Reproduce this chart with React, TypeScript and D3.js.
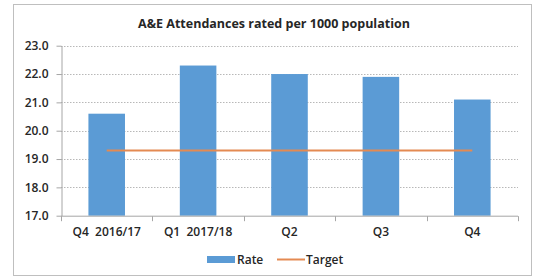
import React, { useEffect, useRef } from "react";
import * as d3 from "d3";

// ─── Data ─────────────────────────────────────────────────────────────────────
const CATEGORIES = ["Q4  2016/17", "Q1  2017/18", "Q2", "Q3", "Q4"];
const RATE = [20.6, 22.3, 22.0, 21.9, 21.1];
const TARGET = [19.3, 19.3, 19.3, 19.3, 19.3];
const Y_TICKS = [17, 18, 19, 20, 21, 22, 23];
const TITLE = "A&E Attendances rated per 1000 population";

// ─── Design tokens ────────────────────────────────────────────────────────────
const W = 535;
const H = 278;
const PLOT = { left: 61, right: 518, top: 45.7, bottom: 215.7 };
const BAR_FILL = "#5b9bd5";
const TARGET_STROKE = "#e48a52";
const AXIS_STROKE = "#a6a6a6";
const GRID_STROKE = "#b8b8b8";
const TEXT = "#262626";
const FONT = "'Open Sans', 'DejaVu Sans', sans-serif";

export default function App() {
  const svgRef = useRef<SVGSVGElement>(null);

  useEffect(() => {
    const node = svgRef.current;
    if (!node) return;
    const svg = d3.select(node);
    svg.selectAll("*").remove();

    // ── Frame ──────────────────────────────────────────────────────────────
    svg.append("rect")
      .attr("x", 13.5).attr("y", 4.5)
      .attr("width", 518).attr("height", 271)
      .attr("fill", "#fff")
      .attr("stroke", "#bfbfbf");

    svg.append("text")
      .attr("x", 274).attr("y", 28)
      .attr("text-anchor", "middle")
      .attr("font-size", 12.5).attr("font-weight", "bold")
      .attr("fill", TEXT)
      .text(TITLE);

    // ── Scales ─────────────────────────────────────────────────────────────
    const x = d3.scaleBand<string>()
      .domain(CATEGORIES)
      .range([PLOT.left, PLOT.right])
      .padding(0);
    const y = d3.scaleLinear().domain([17, 23]).range([PLOT.bottom, PLOT.top]);
    const cx = (c: string) => (x(c) ?? 0) + x.bandwidth() / 2;

    // ── Grid ───────────────────────────────────────────────────────────────
    svg.append("g")
      .selectAll("line")
      .data(Y_TICKS.filter((t) => t > 17))
      .join("line")
      .attr("x1", PLOT.left).attr("x2", PLOT.right)
      .attr("y1", (d) => Math.round(y(d)) + 0.5)
      .attr("y2", (d) => Math.round(y(d)) + 0.5)
      .attr("stroke", GRID_STROKE)
      .attr("stroke-dasharray", "1.5,1.5");

    // ── Bars ───────────────────────────────────────────────────────────────
    const barW = x.bandwidth() * 0.4;
    svg.append("g")
      .selectAll("rect")
      .data(CATEGORIES)
      .join("rect")
      .attr("x", (d) => cx(d) - barW / 2)
      .attr("y", (_, i) => y(RATE[i]))
      .attr("width", barW)
      .attr("height", (_, i) => PLOT.bottom - y(RATE[i]))
      .attr("fill", BAR_FILL);

    // ── Axes ───────────────────────────────────────────────────────────────
    const yAxis = svg.append("g")
      .attr("transform", `translate(${PLOT.left + 0.5},0)`)
      .call(d3.axisLeft(y).tickValues(Y_TICKS).tickSize(5).tickSizeOuter(0).tickFormat(d3.format(".1f")));
    yAxis.select(".domain").attr("stroke", AXIS_STROKE);
    yAxis.selectAll(".tick line").attr("stroke", AXIS_STROKE);
    yAxis.selectAll("text")
      .attr("fill", TEXT).attr("font-size", 12).attr("font-family", FONT)
      .attr("font-weight", 600).attr("x", -13);

    const bounds = [...CATEGORIES.map((c) => x(c) ?? 0), PLOT.right];
    const xAxis = svg.append("g").attr("transform", `translate(0,${PLOT.bottom + 0.5})`);
    xAxis.append("line")
      .attr("x1", PLOT.left).attr("x2", PLOT.right)
      .attr("stroke", AXIS_STROKE);
    xAxis.selectAll("line.tk")
      .data(bounds)
      .join("line")
      .attr("class", "tk")
      .attr("x1", (d) => Math.round(d) + 0.5).attr("x2", (d) => Math.round(d) + 0.5)
      .attr("y1", 0).attr("y2", 5)
      .attr("stroke", AXIS_STROKE);
    xAxis.selectAll("text")
      .data(CATEGORIES)
      .join("text")
      .attr("x", (d) => cx(d))
      .attr("y", 20)
      .attr("text-anchor", "middle")
      .attr("font-size", 12).attr("font-weight", 600)
      .attr("fill", TEXT)
      .attr("xml:space", "preserve")
      .style("white-space", "pre")
      .text((d) => d);

    // ── Target line ────────────────────────────────────────────────────────
    const line = d3.line<number>()
      .x((_, i) => cx(CATEGORIES[i]))
      .y((d) => y(d));
    svg.append("path")
      .datum(TARGET)
      .attr("d", line)
      .attr("fill", "none")
      .attr("stroke", TARGET_STROKE)
      .attr("stroke-width", 2);

    // ── Legend ─────────────────────────────────────────────────────────────
    const lg = svg.append("g").attr("font-size", 12).attr("font-weight", 600).attr("fill", TEXT);
    lg.append("rect")
      .attr("x", 207).attr("y", 256).attr("width", 28).attr("height", 7)
      .attr("fill", BAR_FILL);
    lg.append("text").attr("x", 237).attr("y", 264).text("Rate");
    lg.append("line")
      .attr("x1", 277).attr("x2", 305).attr("y1", 259.5).attr("y2", 259.5)
      .attr("stroke", TARGET_STROKE).attr("stroke-width", 2);
    lg.append("text").attr("x", 306).attr("y", 264).text("Target");
  }, []);

  return (
    <div style={{ position: "absolute", left: 0, top: 0 }}>
      <svg
        ref={svgRef}
        width={W}
        height={H}
        style={{ display: "block", fontFamily: FONT, background: "#fff" }}
      />
    </div>
  );
}
